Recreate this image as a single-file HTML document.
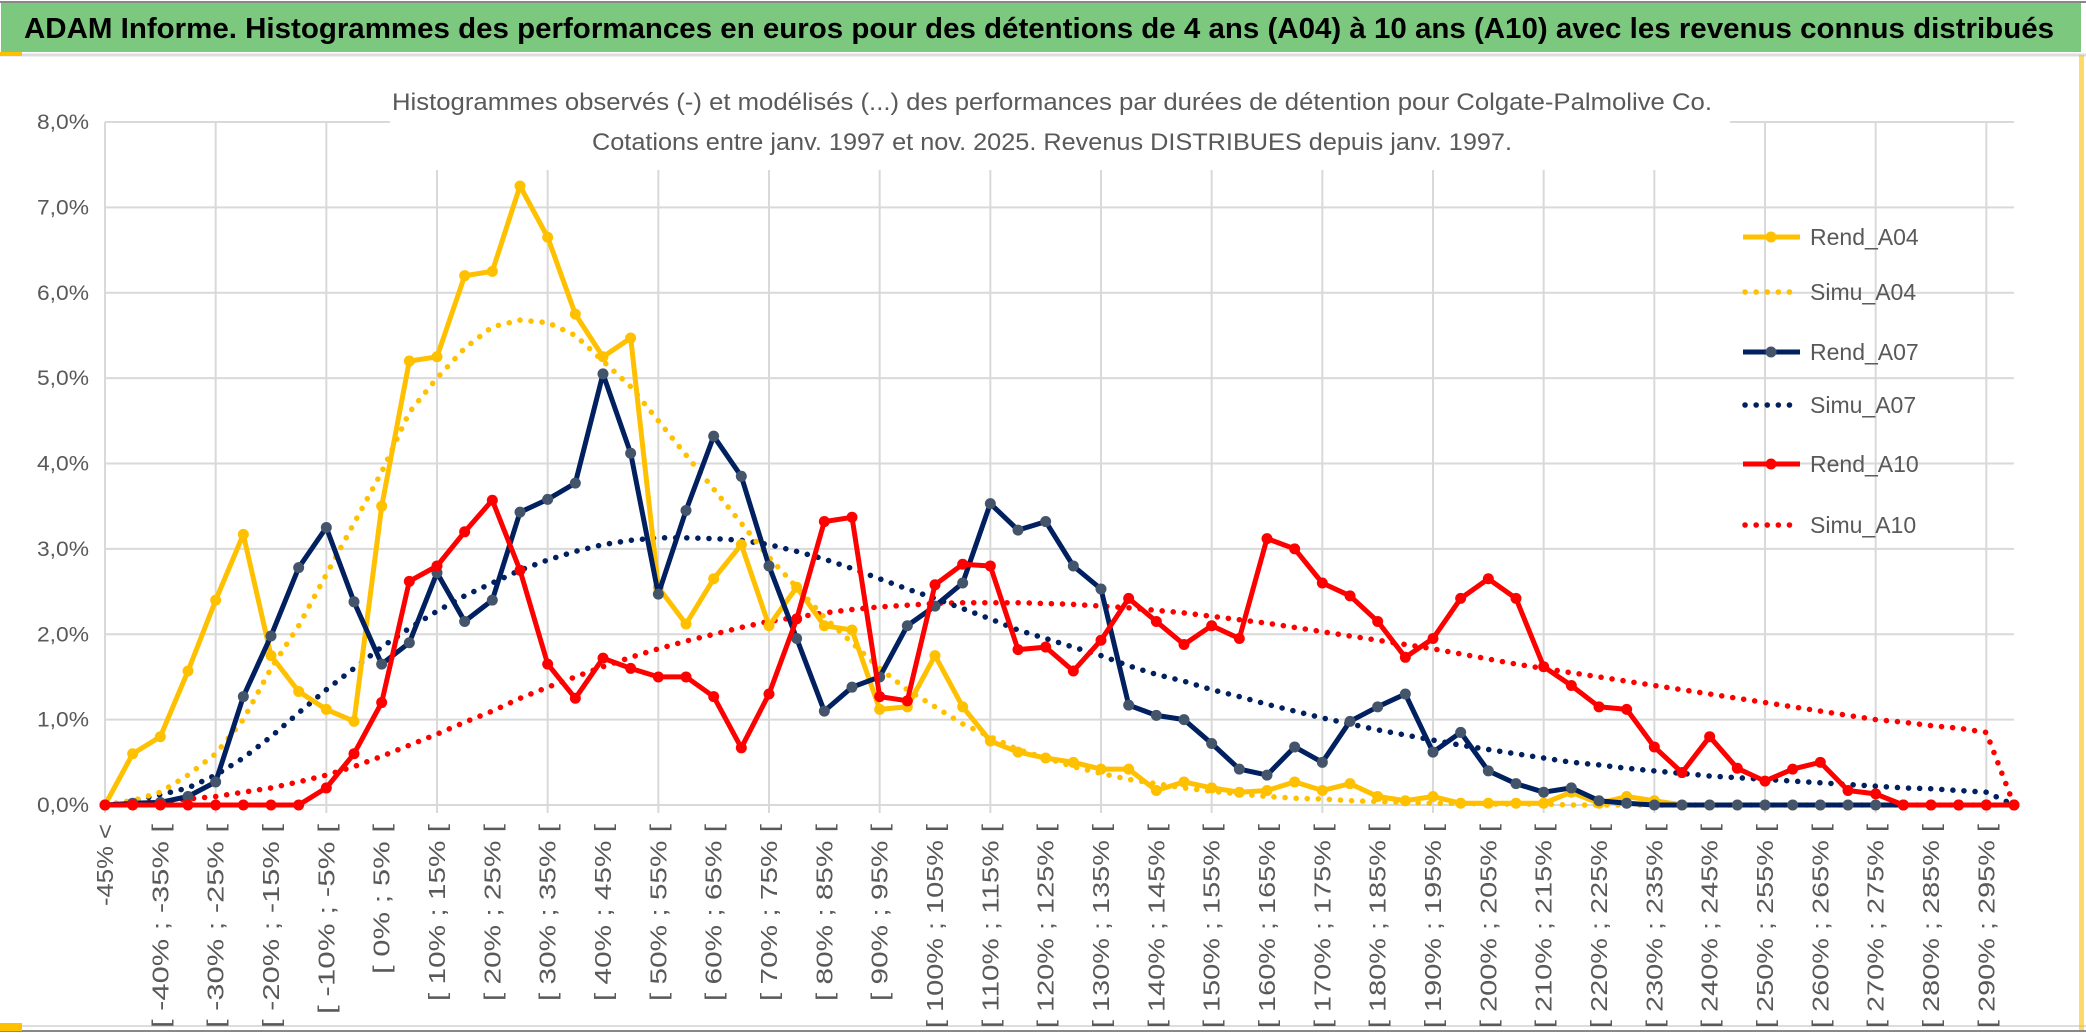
<!DOCTYPE html>
<html><head><meta charset="utf-8"><style>
html,body{margin:0;padding:0;background:#fff;}
svg{display:block;font-family:"Liberation Sans",sans-serif;}
</style></head><body>
<svg id="c" width="2086" height="1033" viewBox="0 0 2086 1033">
<rect x="0" y="0" width="2086" height="1033" fill="#fff"/>
<rect x="1" y="2" width="2080" height="50" fill="#7DC87F"/>
<line x1="0" y1="2" x2="2086" y2="2" stroke="#888" stroke-width="2"/>
<line x1="0" y1="55" x2="2086" y2="55" stroke="#ddd" stroke-width="3"/>
<rect x="0" y="52" width="22" height="4" fill="#FFC000"/>
<text x="24" y="38" font-size="29" font-weight="bold" fill="#000" textLength="2030" lengthAdjust="spacingAndGlyphs">ADAM Informe. Histogrammes des performances en euros pour des détentions de 4 ans (A04) à 10 ans (A10) avec les revenus connus distribués</text>
<line x1="0" y1="1026" x2="2086" y2="1026" stroke="#ddd" stroke-width="2"/>
<line x1="0" y1="1031" x2="2086" y2="1031" stroke="#888" stroke-width="2"/>
<rect x="0" y="1023" width="22" height="8" fill="#FFC000"/>
<rect x="2079" y="55" width="5" height="975" fill="#FFC000" opacity="0.6"/>
<g id="grid"></g>
<g id="ylab"></g>
<g id="xlab"></g>
<rect x="390" y="80" width="1340" height="90" fill="#fff"/>
<text x="1052" y="110" font-size="24" fill="#595959" text-anchor="middle" textLength="1320" lengthAdjust="spacingAndGlyphs">Histogrammes observés (-) et modélisés (...) des performances par durées de détention pour Colgate-Palmolive Co.</text>
<text x="1052" y="150" font-size="24" fill="#595959" text-anchor="middle" textLength="920" lengthAdjust="spacingAndGlyphs">Cotations entre janv. 1997 et nov. 2025. Revenus DISTRIBUES depuis janv. 1997.</text>
<g id="series"></g>
<g id="legend"></g>
</svg>
<script>
const categoryCount = 70;
const yTicks = [0,1,2,3,4,5,6,7,8];
const rendA04 = [0,0.6,0.8,1.57,2.4,3.17,1.75,1.33,1.12,0.98,3.5,5.2,5.25,6.2,6.25,7.25,6.65,5.75,5.25,5.47,2.55,2.12,2.65,3.05,2.1,2.55,2.1,2.05,1.12,1.15,1.75,1.15,0.75,0.62,0.55,0.5,0.42,0.42,0.17,0.27,0.2,0.15,0.17,0.27,0.17,0.25,0.1,0.05,0.1,0.02,0.02,0.02,0.02,0.15,0.02,0.1,0.05,0,0,0,0,0,0,0,0,0,0,0,0,0];
const simuA04 = [0,0.05,0.15,0.35,0.6,1.0,1.6,2.1,2.7,3.3,3.9,4.6,5.0,5.35,5.6,5.68,5.65,5.5,5.2,4.9,4.5,4.1,3.7,3.3,2.9,2.55,2.2,1.9,1.6,1.35,1.15,0.95,0.8,0.65,0.55,0.45,0.37,0.3,0.25,0.2,0.16,0.13,0.1,0.08,0.07,0.05,0.04,0.03,0.02,0.02,0.01,0.01,0.01,0,0,0,0,0,0,0,0,0,0,0,0,0,0,0,0,0];
const rendA07 = [0,0.02,0.03,0.1,0.27,1.27,1.98,2.78,3.25,2.38,1.65,1.9,2.72,2.15,2.4,3.43,3.58,3.77,5.05,4.12,2.47,3.45,4.32,3.85,2.8,1.95,1.1,1.38,1.5,2.1,2.33,2.6,3.53,3.22,3.32,2.8,2.53,1.17,1.05,1.0,0.72,0.42,0.35,0.68,0.5,0.98,1.15,1.3,0.62,0.85,0.4,0.25,0.15,0.2,0.05,0.02,0,0,0,0,0,0,0,0,0,0,0,0,0,0];
const simuA07 = [0,0.05,0.12,0.2,0.35,0.55,0.8,1.08,1.35,1.6,1.85,2.07,2.27,2.45,2.6,2.75,2.87,2.97,3.05,3.1,3.13,3.13,3.12,3.1,3.05,2.97,2.88,2.77,2.65,2.53,2.42,2.3,2.18,2.05,1.95,1.85,1.75,1.63,1.53,1.45,1.35,1.27,1.18,1.1,1.02,0.95,0.88,0.82,0.76,0.7,0.65,0.6,0.55,0.5,0.47,0.43,0.4,0.37,0.34,0.32,0.3,0.28,0.26,0.24,0.22,0.2,0.19,0.17,0.15,0];
const rendA10 = [0,0,0,0,0,0,0,0,0.2,0.6,1.2,2.62,2.8,3.2,3.57,2.75,1.65,1.25,1.72,1.6,1.5,1.5,1.27,0.67,1.3,2.18,3.32,3.37,1.27,1.22,2.58,2.82,2.8,1.82,1.85,1.57,1.93,2.42,2.15,1.88,2.1,1.95,3.12,3.0,2.6,2.45,2.15,1.73,1.95,2.42,2.65,2.42,1.62,1.4,1.15,1.12,0.68,0.38,0.8,0.43,0.28,0.42,0.5,0.17,0.13,0,0,0,0,0];
const simuA10 = [0,0.02,0.04,0.07,0.1,0.15,0.2,0.27,0.35,0.45,0.57,0.7,0.83,0.97,1.1,1.25,1.38,1.5,1.62,1.73,1.83,1.92,2.0,2.08,2.15,2.2,2.25,2.29,2.32,2.34,2.36,2.37,2.37,2.37,2.36,2.35,2.33,2.31,2.28,2.25,2.21,2.17,2.13,2.08,2.03,1.98,1.93,1.88,1.83,1.77,1.71,1.65,1.6,1.55,1.5,1.45,1.4,1.35,1.3,1.25,1.2,1.15,1.1,1.05,1.0,0.97,0.93,0.9,0.85,0];
const seriesNames = ["Rend_A04","Simu_A04","Rend_A07","Simu_A07","Rend_A10","Simu_A10"];

const NS="http://www.w3.org/2000/svg";
const X0=105, X1=2014, Y0=805, Y8=122;
function xs(i){return X0+(X1-X0)*i/(categoryCount-1);}
function ys(v){return Y0-(Y0-Y8)*v/8;}
function mk(tag,attrs,parent){const e=document.createElementNS(NS,tag);for(const k in attrs)e.setAttribute(k,attrs[k]);parent.appendChild(e);return e;}
function catLabel(k){if(k===0)return "-45% <";const a=-50+5*k;return "[ "+a+"% ; "+(a+5)+"% [";}

const grid=document.getElementById('grid');
yTicks.forEach(t=>{
  const l=mk('line',{x1:X0,x2:X1,y1:ys(t),y2:ys(t),stroke:'#d9d9d9','stroke-width':2},grid);
  
  
  const tx=mk('text',{x:89,y:ys(t)+7,'font-size':21,fill:'#595959','text-anchor':'end',textLength:52,lengthAdjust:'spacingAndGlyphs'},document.getElementById('ylab'));
  tx.textContent=t.toFixed(1).replace('.',',')+'%';
  
  
});
for(let k=0;k<categoryCount;k+=4){
  const l=mk('line',{x1:xs(k),x2:xs(k),y1:Y8,y2:Y0+8,stroke:'#d9d9d9','stroke-width':2},grid);
  
  
}
const xl=document.getElementById('xlab');
for(let k=0;k<categoryCount-1;k+=2){
  const x=xs(k)+8, y=824;
  const s=catLabel(k);
  const t=mk('text',{x:x,y:y,'font-size':23,fill:'#595959','text-anchor':'end',textLength:(13.6*s.length).toFixed(0),lengthAdjust:'spacingAndGlyphs',transform:'rotate(-90 '+x+' '+y+')'},xl);
  t.textContent=s;
  
  
}
const sg=document.getElementById('series');
function pts(arr){return arr.map((v,i)=>xs(i).toFixed(1)+','+ys(v).toFixed(1)).join(' ');}
function dotted(arr,color,name){
  const p=mk('polyline',{points:pts(arr),fill:'none',stroke:color,'stroke-width':5.5,'stroke-linecap':'round','stroke-dasharray':'0.1 11'},sg);
  
  
}
function solid(arr,color,mcolor,name){
  const g=mk('g',{},sg);
  
  
  mk('polyline',{points:pts(arr),fill:'none',stroke:color,'stroke-width':5,'stroke-linejoin':'round'},g);
  arr.forEach((v,i)=>{
    const c=mk('circle',{cx:xs(i),cy:ys(v),r:5.5,fill:mcolor},g);
    
    
  });
}
dotted(simuA10,'#FF0000','simu-a10-line');
dotted(simuA07,'#002060','simu-a07-line');
dotted(simuA04,'#FFC000','simu-a04-line');
solid(rendA04,'#FFC000','#FFC000','rend-a04-line');
solid(rendA07,'#002060','#44546A','rend-a07-line');
solid(rendA10,'#FF0000','#FF0000','rend-a10-line');

const lg=document.getElementById('legend');
const lcolors=['#FFC000','#FFC000','#002060','#002060','#FF0000','#FF0000'];
const lys=[237,292,352,405,464,525];
seriesNames.forEach((n,i)=>{
  const g=mk('g',{},lg);
  
  
  if(i%2===0){
    mk('line',{x1:1743,x2:1800,y1:lys[i],y2:lys[i],stroke:lcolors[i],'stroke-width':5},g);
    mk('circle',{cx:1771,cy:lys[i],r:5.5,fill:i===2?'#44546A':lcolors[i]},g);
  } else {
    mk('line',{x1:1745,x2:1800,y1:lys[i],y2:lys[i],stroke:lcolors[i],'stroke-width':5.5,'stroke-linecap':'round','stroke-dasharray':'0.1 11'},g);
  }
  const t=mk('text',{x:1810,y:lys[i]+8,'font-size':23,fill:'#595959'},g);
  t.textContent=n;
});
</script>
</body></html>
